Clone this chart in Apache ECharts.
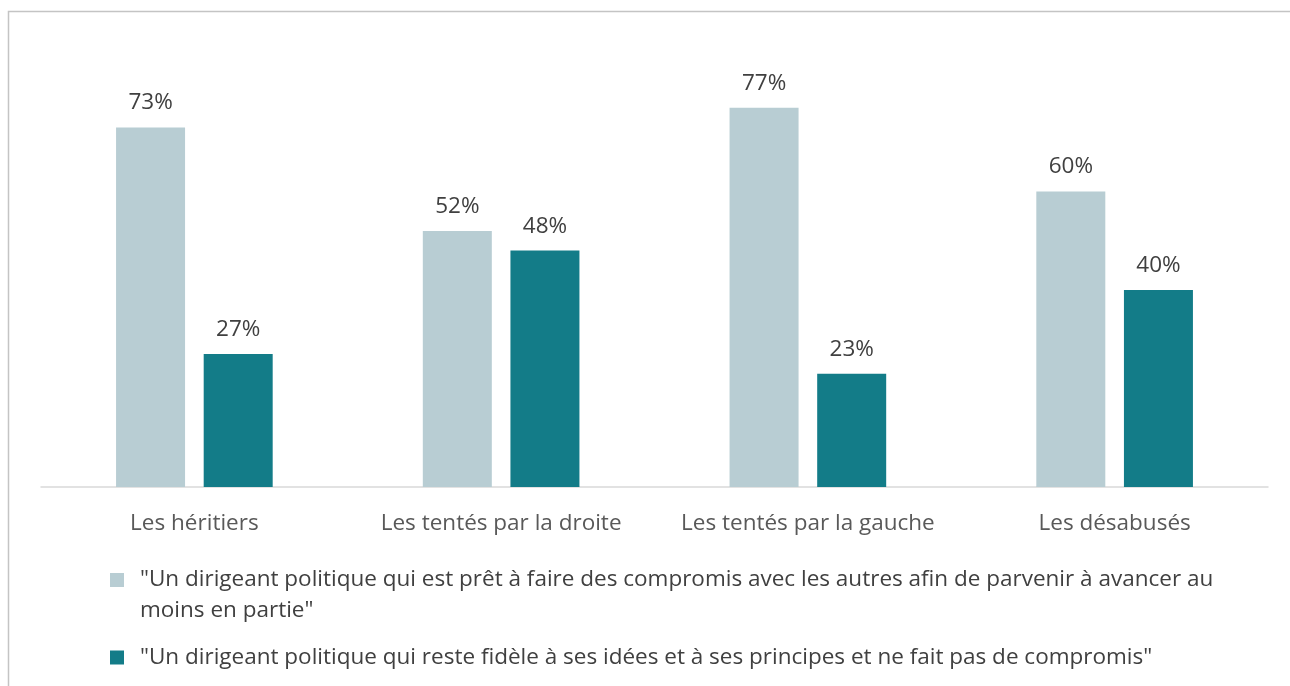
<!DOCTYPE html>
<html>
<head>
<meta charset="utf-8">
<script src="https://cdn.jsdelivr.net/npm/echarts@6/dist/echarts.min.js"></script>
<style>
  html, body { margin: 0; padding: 0; background: #fff; }
  #chart { width: 1290px; height: 686px; }
</style>
</head>
<body>
<div id="chart"></div>
<script>
// catégories et séries
const categories = ['Les héritiers', 'Les tentés par la droite', 'Les tentés par la gauche', 'Les désabusés']
const seriesNames = [
    '"Un dirigeant politique qui est prêt à faire des compromis avec les autres afin de parvenir à avancer au moins en partie"',
    '"Un dirigeant politique qui reste fidèle à ses idées et à ses principes et ne fait pas de compromis"'
]
const compromisValues = [73, 52, 77, 60]
const fideleValues = [27, 48, 23, 40]
const colors = ['#b8cdd3', '#137c88']

const font = '"Open Sans", sans-serif'

const myChart = echarts.init(document.getElementById('chart'))

//étiquettes au-dessus des barres
const label = {
    show: true,
    position: 'top',
    distance: 13,
    formatter: '{c}%',
    fontFamily: font,
    fontSize: 22.5,
    lineHeight: 23,
    color: '#404040'
}

//style du texte de légende (décalé un peu du carré)
const legendText = {
    fontFamily: font,
    fontSize: 22.5,
    lineHeight: 31,
    color: '#404040',
    padding: [0, 0, 0, 11]
}

const option = {
    animation: false,
    grid: {
        left: 41,
        right: 22,
        top: 93,
        bottom: 199
    },
    xAxis: {
        type: 'category',
        data: categories,
        axisLine: { lineStyle: { color: '#d9d9d9', width: 1.5 } },
        axisTick: { show: false },
        axisLabel: {
            interval: 0,
            margin: 25,
            fontFamily: font,
            fontSize: 22.5,
            lineHeight: 23,
            color: '#595959'
        }
    },
    yAxis: {
        type: 'value',
        min: 0,
        max: 80,
        show: false,
        splitLine: { show: false }
    },
    legend: [
        {
            data: [seriesNames[0]],
            left: 105,
            top: 539,
            icon: 'rect',
            itemWidth: 14,
            itemHeight: 14,
            selectedMode: false,
            //ligne vide en haut pour garder le carré sur la 1re ligne
            formatter: name => '{pad| }\n{t|' + name.replace(' au moins', ' au}\n{t|moins') + '}',
            textStyle: {
                fontFamily: font,
                fontSize: 22.5,
                color: '#404040',
                rich: {
                    pad: { fontSize: 10, lineHeight: 31 },
                    t: legendText
                }
            }
        },
        {
            data: [seriesNames[1]],
            left: 105,
            top: 641,
            icon: 'rect',
            itemWidth: 14,
            itemHeight: 14,
            selectedMode: false,
            formatter: name => '{t|' + name + '}',
            textStyle: {
                fontFamily: font,
                fontSize: 22.5,
                color: '#404040',
                rich: { t: legendText }
            }
        }
    ],
    graphic: [
        {
            type: 'rect',
            silent: true,
            shape: { x: 8.5, y: 11.5, width: 1300, height: 700 },
            style: { fill: 'none', stroke: '#c4c4c4', lineWidth: 1.5 }
        }
    ],
    series: [
        {
            name: seriesNames[0],
            type: 'bar',
            data: compromisValues,
            barWidth: 69,
            barGap: '27%',
            itemStyle: { color: colors[0] },
            label: label
        },
        {
            name: seriesNames[1],
            type: 'bar',
            data: fideleValues,
            barWidth: 69,
            itemStyle: { color: colors[1] },
            label: label
        }
    ]
}

myChart.setOption(option, true)
</script>
</body>
</html>
